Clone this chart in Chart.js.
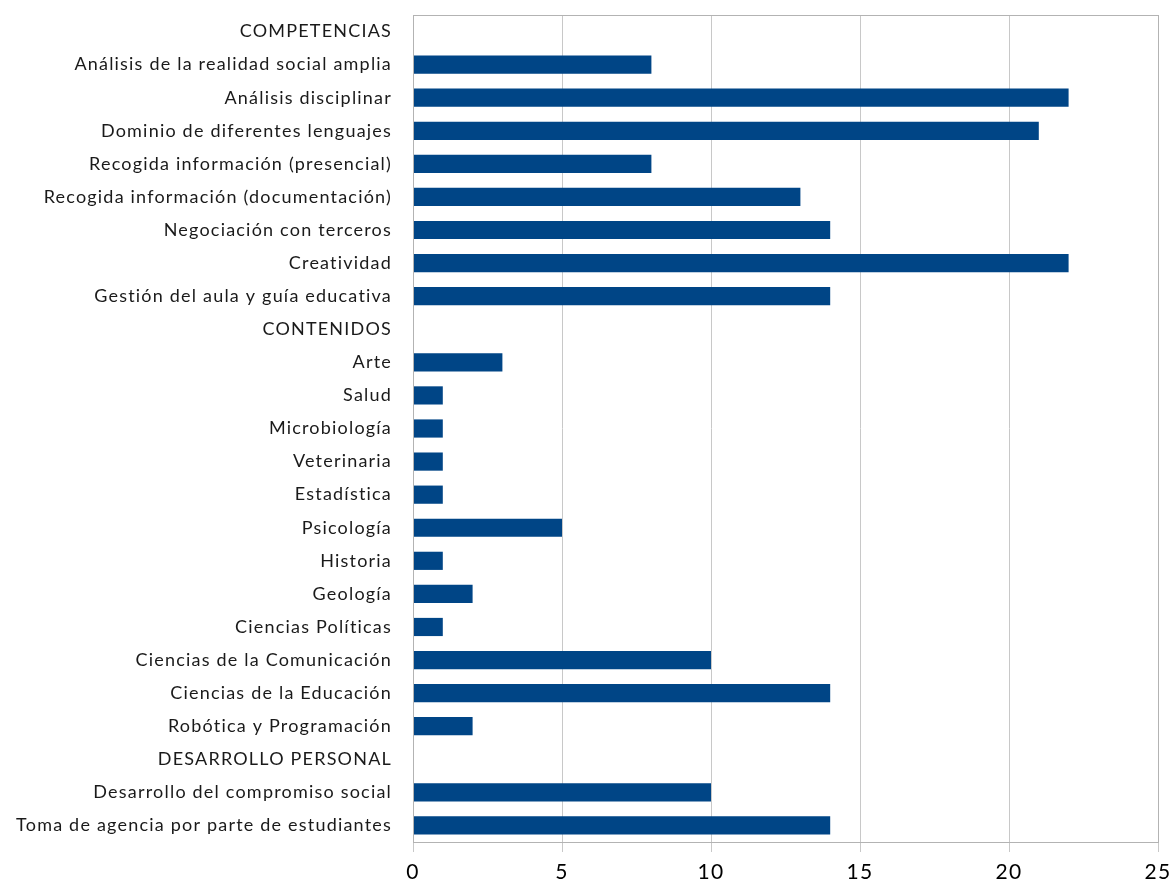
<!DOCTYPE html>
<html>
<head>
<meta charset="utf-8">
<script src="https://cdn.jsdelivr.net/npm/chart.js@4"></script>
<style>
  html, body { margin: 0; padding: 0; background: #fff; }
  #wrap { width: 1171px; height: 887px; }
</style>
</head>
<body>
<div id="wrap"><canvas id="chart1"></canvas></div>
<script>
const categories = [
    'COMPETENCIAS',
    'Análisis de la realidad social amplia',
    'Análisis disciplinar',
    'Dominio de diferentes lenguajes',
    'Recogida información (presencial)',
    'Recogida información (documentación)',
    'Negociación con terceros',
    'Creatividad',
    'Gestión del aula y guía educativa',
    'CONTENIDOS',
    'Arte',
    'Salud',
    'Microbiología',
    'Veterinaria',
    'Estadística',
    'Psicología',
    'Historia',
    'Geología',
    'Ciencias Políticas',
    'Ciencias de la Comunicación',
    'Ciencias de la Educación',
    'Robótica y Programación',
    'DESARROLLO PERSONAL',
    'Desarrollo del compromiso social',
    'Toma de agencia por parte de estudiantes'
];
const values = [
    null, 8, 22, 21, 8, 13, 14, 22, 14,
    null, 3, 1, 1, 1, 1, 5, 1, 2, 1, 10, 14, 2,
    null, 10, 14
];
const xMin = 0;
const xMax = 25;
const xStep = 5;

const frameColor = '#b3b3b3';

// top border of the plot + a bit of letter spacing for the labels
const frame = {
    id: 'frame',
    beforeDraw(chart) {
        chart.ctx.letterSpacing = '1.2px';
    },
    afterDraw(chart) {
        const a = chart.chartArea;
        const c = chart.ctx;
        c.save();
        c.strokeStyle = frameColor;
        c.lineWidth = 1;
        c.strokeRect(Math.round(a.left) + 0.5, Math.round(a.top) + 0.5,
            Math.round(a.right - a.left), Math.round(a.bottom - a.top));
        c.restore();
    }
};

const ctx = document.getElementById('chart1').getContext('2d');
const myChart = new Chart(ctx, {
    type: 'bar',
    data: {
        labels: categories,
        datasets: [{
            data: values,
            backgroundColor: '#004586',
            borderWidth: 0,
            categoryPercentage: 1,
            barPercentage: 0.55
        }]
    },
    options: {
        indexAxis: 'y',
        responsive: true,
        maintainAspectRatio: false,
        animation: false,
        layout: { padding: { top: 15, right: 13, left: 0, bottom: 0 } },
        plugins: {
            legend: { display: false },
            tooltip: { enabled: false }
        },
        scales: {
            x: {
                min: xMin,
                max: xMax,
                ticks: {
                    stepSize: xStep,
                    color: '#000',
                    padding: 8,
                    font: { family: 'Lato', size: 21 }
                },
                grid: {
                    color: '#c8c8c8',
                    tickLength: 10,
                    lineWidth: 1
                },
                border: { color: frameColor },
                afterFit(scale) {
                    scale.height = 45;
                    scale.paddingLeft = 0;
                    scale.paddingRight = 0;
                }
            },
            y: {
                ticks: {
                    color: '#1a1a1a',
                    padding: 13,
                    autoSkip: false,
                    font: { family: 'Lato', size: 18 }
                },
                grid: { display: false },
                border: { color: frameColor },
                afterFit(scale) {
                    scale.width = 413;
                    scale.paddingTop = 0;
                    scale.paddingBottom = 0;
                }
            }
        }
    },
    plugins: [frame]
});
</script>
</body>
</html>
